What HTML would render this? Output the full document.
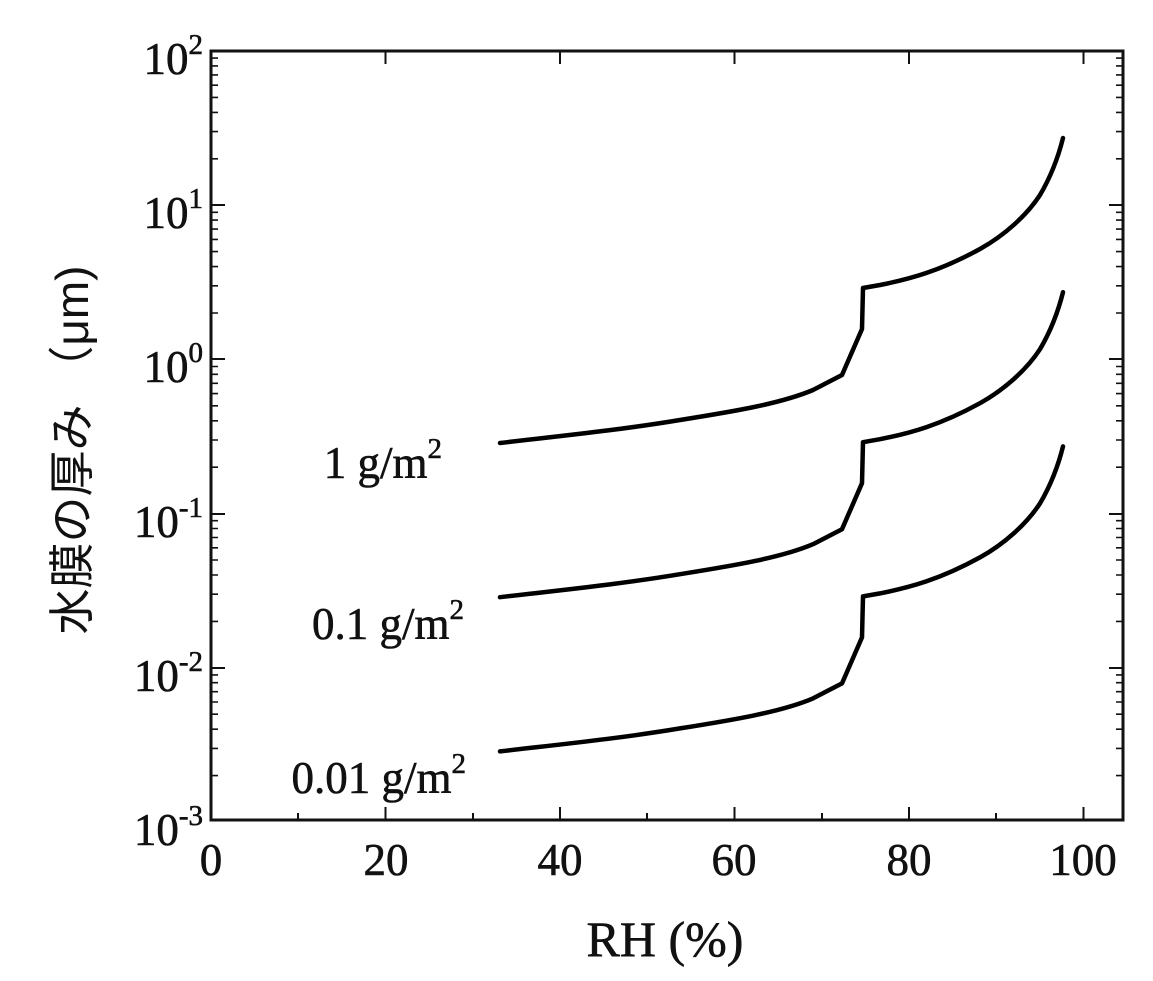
<!DOCTYPE html>
<html><head><meta charset="utf-8"><style>
html,body{margin:0;padding:0;background:#fff;}
svg{display:block;}
.t{font-family:"Liberation Serif",serif;fill:#111;stroke:#111;stroke-width:0.6;}
</style></head><body>
<svg width="1153" height="981" viewBox="0 0 1153 981" xmlns="http://www.w3.org/2000/svg">
<rect x="211" y="51" width="912" height="769" stroke="#111" stroke-width="3" fill="none"/>
<g stroke="#111" stroke-width="2" fill="none">
<path d="M385.5,820v-13M560,820v-13M734.5,820v-13M909,820v-13M1083.5,820v-13M298,820v-7M473,820v-7M647,820v-7M822,820v-7M996,820v-7"/>
<path d="M385.5,51v13M560,51v13M734.5,51v13M909,51v13M1083.5,51v13"/>
<path d="M211,205h14M211,359h14M211,514h14M211,668h14M1123,205h-14M1123,359h-14M1123,514h-14M1123,668h-14"/>
</g>
<g stroke="#111" stroke-width="1.6" fill="none" id="minor"></g>
<g stroke="#000" stroke-width="4.5" fill="none" stroke-linejoin="round" stroke-linecap="round">
<path id="c1" d="M500,443 C560,436 620,430 680,420 C730,412 780,404 813,390 L842,375 L862,329 L863,288 L880,285 C910,279 940,271 980,249 C1005,235 1027,215 1040,195 C1050,178 1058,158 1063,138"/>
<use href="#c1" transform="translate(0,154.2)"/>
<use href="#c1" transform="translate(0,308.4)"/>
</g>
<g class="t" font-size="45" text-anchor="end">
<text x="203" y="74">10<tspan font-size="29" dy="-20">2</tspan></text>
<text x="203" y="228">10<tspan font-size="29" dy="-20">1</tspan></text>
<text x="203" y="382">10<tspan font-size="29" dy="-20">0</tspan></text>
<text x="203" y="537">10<tspan font-size="29" dy="-20">-1</tspan></text>
<text x="203" y="691">10<tspan font-size="29" dy="-20">-2</tspan></text>
<text x="203" y="845">10<tspan font-size="29" dy="-20">-3</tspan></text>
</g>
<g class="t" font-size="45" text-anchor="middle">
<text x="211" y="875">0</text>
<text x="386" y="875">20</text>
<text x="560" y="875">40</text>
<text x="734" y="875">60</text>
<text x="909" y="875">80</text>
<text x="1083" y="875">100</text>
<text x="665" y="956" font-size="50">RH (%)</text>
</g>
<g class="t" font-size="45" text-anchor="end">
<text x="442" y="478">1 g/m<tspan font-size="29" dy="-20">2</tspan></text>
<text x="464" y="639">0.1 g/m<tspan font-size="29" dy="-20">2</tspan></text>
<text x="466" y="793">0.01 g/m<tspan font-size="29" dy="-20">2</tspan></text>
</g>
<text transform="translate(88,450) rotate(-90)" text-anchor="middle" font-size="46" font-family="'Liberation Sans','Noto Sans CJK JP',sans-serif" fill="#111">水膜の厚み （μm)</text>
<script>
(function(){
var g=document.getElementById('minor');var d='';
var ys=[51,205.2,359.4,513.6,667.8,822];
for(var i=0;i<5;i++){var base=ys[i+1];for(var k=2;k<10;k++){var y=base-154.2*Math.log10(k);d+='M211,'+y.toFixed(1)+'h7M1123,'+y.toFixed(1)+'h-7';}}
var p=document.createElementNS('http://www.w3.org/2000/svg','path');p.setAttribute('d',d);g.appendChild(p);
})();
</script>
</svg>
</body></html>
